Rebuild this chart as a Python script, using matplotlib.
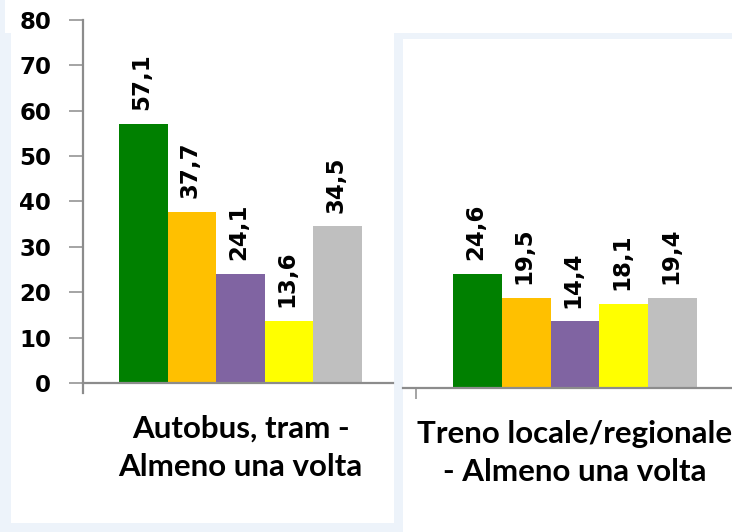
import matplotlib
matplotlib.use("Agg")
import matplotlib.pyplot as plt
from matplotlib.patches import Rectangle

# dati (due gruppi, cinque serie)
autobus_label = "Autobus, tram -\nAlmeno una volta"
treno_label = "Treno locale/regionale\n- Almeno una volta"
autobus_vals = [57.1, 37.7, 24.1, 13.6, 34.5]
treno_vals = [24.6, 19.5, 14.4, 18.1, 19.4]
bar_colors = ["#008000", "#FFC000", "#8064A2", "#FFFF00", "#BFBFBF"]
y_ticks = [0, 10, 20, 30, 40, 50, 60, 70, 80]

W, H = 732, 532
fig = plt.figure(figsize=(W / 100, H / 100), dpi=100)
fig.patch.set_facecolor("#EDF3FA")


def px_rect(x0, y0, x1, y1):
    # rettangolo in pixel (origine in alto a sinistra) -> coordinate figura
    return [x0 / W, 1 - y1 / H, (x1 - x0) / W, (y1 - y0) / H]


# pannelli bianchi di sfondo
for x0, y0, x1, y1 in [(5, 0, 732, 33), (11, 0, 394, 523), (403, 39, 732, 532)]:
    l, b, w, h = px_rect(x0, y0, x1, y1)
    fig.add_artist(Rectangle((l, b), w, h, transform=fig.transFigure,
                             facecolor="white", edgecolor="none", zorder=0))

axis_col = "#8C8C8C"
xs = list(range(len(autobus_vals)))


def fmt(v):
    return f"{v:.1f}".replace(".", ",")


def draw_panel(ax, vals, label, xlim, ymax):
    ax.set_facecolor("none")
    ax.bar(xs, vals, width=1.0, color=bar_colors, edgecolor="none", zorder=2)
    for x, v in zip(xs, vals):
        ax.annotate(fmt(v), (x, v), xytext=(-1.5, 10), textcoords="offset points",
                    rotation=90, ha="center", va="bottom",
                    fontsize=16.5, fontweight="bold", color="black",
                    family="DejaVu Sans")
    ax.set_xlim(*xlim)
    ax.set_ylim(0, ymax)
    for s in ["top", "right"]:
        ax.spines[s].set_visible(False)
    ax.spines["bottom"].set_color(axis_col)
    ax.spines["bottom"].set_linewidth(1.6)
    ax.set_xticks([2], [label])
    ax.tick_params(axis="x", length=0, pad=23)
    for t in ax.get_xticklabels():
        t.set_fontfamily("Lato")
        t.set_fontweight("bold")
        t.set_fontsize(22.5)
        t.set_linespacing(1.45)


# pannello sinistro
ax1 = fig.add_axes(px_rect(83, 20, 393, 383))
draw_panel(ax1, autobus_vals, autobus_label, (-1.241, 5.138), 80)
ax1.spines["left"].set_color(axis_col)
ax1.spines["left"].set_linewidth(1.6)
ax1.spines["left"].set_bounds(-10 / 4.54, 80)
ax1.set_yticks(y_ticks)
ax1.tick_params(axis="y", direction="out", length=10, width=1.1,
                color=axis_col, pad=13, labelsize=16.5)
for t in ax1.get_yticklabels():
    t.set_fontweight("bold")
    t.set_fontfamily("DejaVu Sans")

# pannello destro
ax2 = fig.add_axes(px_rect(403, 18, 732, 388))
draw_panel(ax2, treno_vals, treno_label, (-1.5246, 5.217), 80)
ax2.spines["left"].set_visible(False)
ax2.set_yticks([])
ax2.set_xticks([-1.258], minor=True)
ax2.tick_params(axis="x", which="minor", direction="out", length=8,
                width=1.1, color=axis_col)

fig.savefig("out.png", dpi=100, facecolor=fig.get_facecolor())
